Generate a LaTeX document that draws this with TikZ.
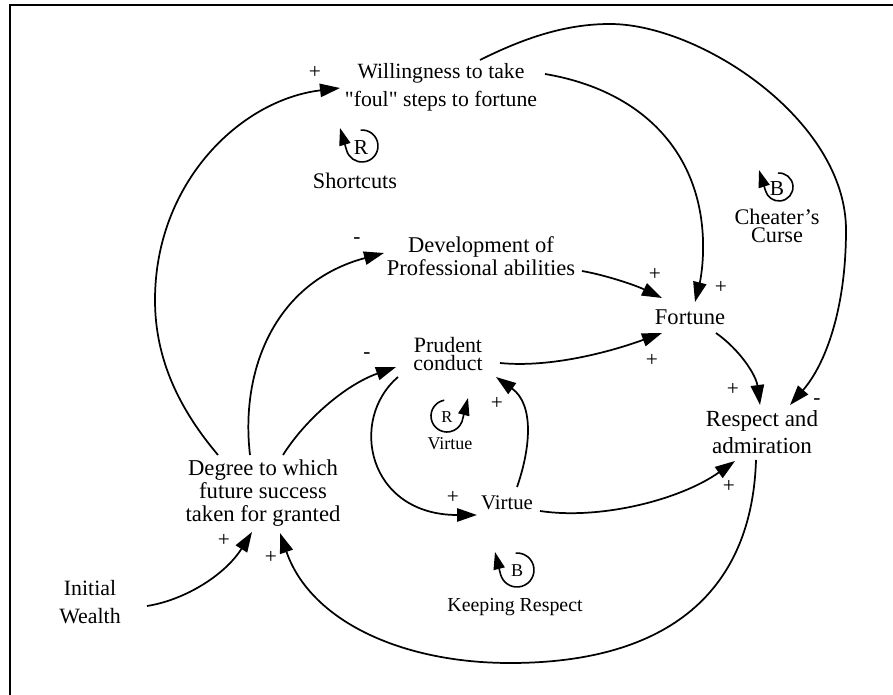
\documentclass[tikz,border=0pt]{standalone}
\usepackage{fontspec}
\setmainfont{Liberation Serif}
\newfontfamily\plainqfont{Liberation Serif}
\usetikzlibrary{arrows.meta,calc}
\begin{document}
\begin{tikzpicture}[x=0.75pt,y=-0.75pt,
  every node/.style={inner sep=0pt, outer sep=0pt},
  var/.style={align=center},
  sgn/.style={font=\fontsize{16}{16}\selectfont},
  link/.style={line width=1.3pt, -{Triangle[length=15pt,width=10pt]}},
  loopline/.style={line width=1.2pt, -{Triangle[length=13pt,width=8.5pt]}},
  frameline/.style={line width=1.4pt}
]
\useasboundingbox (0,0) rectangle (893,695);
\draw[frameline] (10,695) -- (10,5) -- (893,5);

% variables
\node[var, font=\fontsize{16.3}{21}\selectfont] (will) at (441,87) {Willingness to take\\{\plainqfont\char34}foul{\plainqfont\char34} steps to fortune};
\node[var, font=\fontsize{16.9}{17.2}\selectfont] (dev) at (481,256) {Development of\\Professional abilities};
\node[var, font=\fontsize{16.9}{17}\selectfont] (fortune) at (690,317) {Fortune};
\node[var, font=\fontsize{16.4}{14}\selectfont] (prudent) at (448,354) {Prudent\\conduct};
\node[var, font=\fontsize{15.6}{16}\selectfont] (virtue) at (507,503) {Virtue};
\node[var, font=\fontsize{17.3}{20}\selectfont] (respect) at (762,432) {Respect and\\admiration};
\node[var, font=\fontsize{17}{17}\selectfont] (degree) at (263,493) {Degree to which\\future success\\taken for granted};
\node[var, font=\fontsize{16.4}{21.5}\selectfont] (wealth) at (90,602) {Initial\\Wealth};

% loop labels
\node[var, font=\fontsize{16.7}{17}\selectfont] (sc) at (355,181) {Shortcuts};
\node[var, font=\fontsize{16.7}{13.5}\selectfont] (cc) at (777,226) {Cheater's\\Curse};
\node[var, font=\fontsize{13.5}{14}\selectfont] (vl) at (450,444) {Virtue};
\node[var, font=\fontsize{14.9}{15}\selectfont] (kr) at (515,607) {Keeping Respect};

% loop symbols
\node[font=\fontsize{16}{16}\selectfont] (Rs) at (361,148) {R};
\draw[loopline] ($(Rs)+(1,-2)$) ++(-95:16) arc[start angle=-95, end angle=165, radius=16] -- ($(Rs)+(-21,-20)$);
\node[font=\fontsize{16}{16}\selectfont] (Bc) at (777,189) {B};
\draw[loopline] ($(Bc)+(2,-2)$) ++(-95:14) arc[start angle=-95, end angle=165, radius=14] -- ($(Bc)+(-18,-19)$);
\node[font=\fontsize{12.5}{13}\selectfont] (Rv) at (447,417) {R};
\draw[loopline] ($(Rv)+(0,-1)$) ++(-100:16) arc[start angle=-100, end angle=-340, radius=16] -- ($(Rv)+(21,-19)$);
\node[font=\fontsize{13.5}{14}\selectfont] (Bk) at (517,571) {B};
\draw[loopline] ($(Bk)+(0,-1)$) ++(-95:17) arc[start angle=-95, end angle=165, radius=17] -- ($(Bk)+(-22,-19)$);

% polarity signs
\node[sgn] (p1) at (315,72) {+};
\node[sgn] (m1) at (357,241) {-};
\node[sgn] (p2) at (655,274) {+};
\node[sgn] (p3) at (721,287) {+};
\node[sgn] (m2) at (367,356) {-};
\node[sgn] (p4) at (652,360) {+};
\node[sgn] (p5) at (497,403) {+};
\node[sgn] (p6) at (453,497) {+};
\node[sgn] (p7) at (733,389) {+};
\node[sgn] (m3) at (817,402) {-};
\node[sgn] (p8) at (729,486) {+};
\node[sgn] (p9) at (224,540) {+};
\node[sgn] (p10) at (271,557) {+};

% links
\draw[link] ($(degree)+(-45,-38)$) .. controls (180,410) and (155,360) .. (155,300)
  .. controls (155,183) and (240,100) .. ($(will)+(-101,1)$);
\draw[link] ($(degree)+(-13,-38)$) .. controls (240,370) and (275,282) .. ($(dev)+(-97,-3)$);
\draw[link] ($(degree)+(20,-38)$) .. controls (305,420) and (345,385) .. ($(prudent)+(-52,13)$);
\draw[link] ($(wealth)+(57,4)$) .. controls (185,600) and (225,575) .. ($(degree)+(-11,39)$);
\draw[link] ($(respect)+(-6,28)$) .. controls (752,590) and (670,663) .. (510,663)
  .. controls (400,663) and (310,620) .. ($(degree)+(17,40)$);
\draw[link] ($(will)+(104,-13)$) .. controls (640,90) and (700,150) .. (703,240)
  .. controls (704,270) and (698,290) .. ($(fortune)+(5,-15)$);
\draw[link] ($(will)+(39,-27)$) .. controls (530,35) and (570,24) .. (610,24)
  .. controls (700,24) and (846,120) .. (846,230)
  .. controls (846,310) and (825,365) .. ($(respect)+(28,-27)$);
\draw[link] ($(dev)+(101,15)$) .. controls (605,275) and (635,285) .. ($(fortune)+(-28,-19)$);
\draw[link] ($(prudent)+(52,9)$) .. controls (550,368) and (610,352) .. ($(fortune)+(-28,16)$);
\draw[link] ($(fortune)+(26,16)$) .. controls (740,350) and (756,375) .. ($(respect)+(-2,-27)$);
\draw[link] ($(prudent)+(-50,23)$) .. controls (348,420) and (368,515) .. ($(virtue)+(-30,12)$);
\draw[link] ($(virtue)+(10,-16)$) .. controls (530,450) and (535,405) .. ($(prudent)+(48,23)$);
\draw[link] ($(virtue)+(33,8)$) .. controls (600,520) and (680,500) .. ($(respect)+(-27,29)$);
\end{tikzpicture}
\end{document}
